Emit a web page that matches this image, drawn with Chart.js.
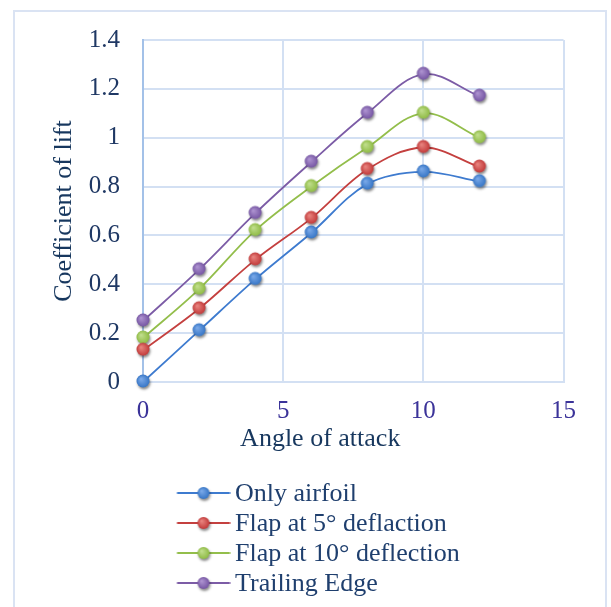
<!DOCTYPE html>
<html>
<head>
<meta charset="utf-8">
<script src="https://cdn.jsdelivr.net/npm/chart.js@4.4.1/dist/chart.umd.min.js"></script>
<style>
  html, body { margin: 0; padding: 0; background: #fff; overflow: hidden; }
  #frame { position: absolute; left: 13px; top: 10px; width: 590px; height: 640px; border: 2px solid #dae3f3; }
  #wrap { position: absolute; left: 0; top: 0; width: 611px; height: 612px; }
</style>
</head>
<body>
<div id="frame"></div>
<div id="wrap"><canvas id="chart"></canvas></div>
<script>
const angles = [0, 2, 4, 6, 8, 10, 12];
const onlyAirfoil = [0, 0.21, 0.42, 0.61, 0.81, 0.86, 0.82];
const flap5 = [0.13, 0.30, 0.50, 0.67, 0.87, 0.96, 0.88];
const flap10 = [0.18, 0.38, 0.62, 0.80, 0.96, 1.10, 1.00];
const trailingEdge = [0.25, 0.46, 0.69, 0.90, 1.10, 1.26, 1.17];
const seriesNames = ['Only airfoil', 'Flap at 5° deflaction', 'Flap at 10° deflection', 'Trailing Edge'];
const seriesValues = [onlyAirfoil, flap5, flap10, trailingEdge];
const xTicks = [0, 5, 10, 15];
const yTicks = [0, 0.2, 0.4, 0.6, 0.8, 1, 1.2, 1.4];
const yTickLabels = ['0', '0.2', '0.4', '0.6', '0.8', '1', '1.2', '1.4'];

const lineColors = ['#3e7bcf', '#c4403f', '#93be4b', '#7c5ca6'];
const dotColors = ['#3776c6', '#c23a3a', '#8fbb45', '#7656a3'];
const dotLights = ['#79a8e8', '#e8837e', '#c0de8c', '#ad92d0'];
const FONT = "'Liberation Serif', 'Times New Roman', serif";
const X_TITLE_SHIFT = -33; // excel puts the x title left of the plot centre

// little 3d-ish dot, optionally with a line through it (legend)
function makeIcon(i, w, lineFrom, lineTo, cx, r) {
    const c = document.createElement('canvas');
    c.width = w;
    c.height = 24;
    const g = c.getContext('2d');
    const cy = 11;
    if (lineTo > lineFrom) {
        g.strokeStyle = lineColors[i];
        g.lineWidth = 2;
        g.beginPath();
        g.moveTo(lineFrom, cy);
        g.lineTo(lineTo, cy);
        g.stroke();
    }
    g.save();
    g.shadowColor = 'rgba(0,0,0,0.45)';
    g.shadowBlur = 2.5;
    g.shadowOffsetX = 1;
    g.shadowOffsetY = 2;
    const grad = g.createRadialGradient(cx - 2, cy - 2, 0.5, cx, cy, r);
    grad.addColorStop(0, dotLights[i]);
    grad.addColorStop(1, dotColors[i]);
    g.fillStyle = grad;
    g.beginPath();
    g.arc(cx, cy, r, 0, Math.PI * 2);
    g.fill();
    g.restore();
    return c;
}

const pointIcons = lineColors.map((_, i) => makeIcon(i, 24, 0, 0, 12, 6.5));
const legendIcons = lineColors.map((_, i) => makeIcon(i, 92, 38.5, 91.5, 65, 6));

const shiftTitle = {
    id: 'shiftTitle',
    afterLayout(chart) {
        const s = chart.scales.x;
        if (!s._origDrawTitle) {
            s._origDrawTitle = s.drawTitle;
            s.drawTitle = function () {
                this.ctx.save();
                this.ctx.translate(X_TITLE_SHIFT, 0);
                this._origDrawTitle();
                this.ctx.restore();
            };
        }
    }
};

const ctx = document.getElementById('chart').getContext('2d');
new Chart(ctx, {
    type: 'line',
    data: {
        datasets: seriesNames.map((name, i) => ({
            label: name,
            data: angles.map((a, k) => ({ x: a, y: seriesValues[i][k] })),
            borderColor: lineColors[i],
            backgroundColor: lineColors[i],
            borderWidth: 1.8,
            tension: 0.35,
            pointStyle: pointIcons[i],
            pointRadius: 7,
            clip: false,
            fill: false
        }))
    },
    options: {
        responsive: true,
        maintainAspectRatio: false,
        animation: false,
        events: [],
        layout: { padding: { left: 30, right: 47.5, top: 40, bottom: 5 } },
        scales: {
            x: {
                type: 'linear',
                min: 0,
                max: 15,
                afterBuildTicks: s => { s.ticks = xTicks.map(v => ({ value: v })); },
                afterFit: s => { s.height = 95; },
                grid: {
                    drawTicks: false,
                    lineWidth: 2,
                    color: c => (c.tick && c.tick.value === 0) ? '#a3c1e8' : '#d3e0f3'
                },
                border: { color: '#d3e0f3', width: 2 },
                ticks: {
                    padding: 14,
                    color: '#3b3399',
                    font: { family: FONT, size: 25 }
                },
                title: {
                    display: true,
                    text: 'Angle of attack',
                    color: '#17375e',
                    font: { family: FONT, size: 26 },
                    padding: { top: 0, bottom: 22 }
                }
            },
            y: {
                min: 0,
                max: 1.4,
                afterBuildTicks: s => { s.ticks = yTicks.map(v => ({ value: v })); },
                afterFit: s => { s.width = 113; },
                grid: { drawTicks: false, lineWidth: 2, color: '#d3e0f3' },
                border: { color: '#a3c1e8', width: 2 },
                ticks: {
                    padding: 23,
                    color: '#1f3864',
                    font: { family: FONT, size: 25 },
                    callback: (v, idx) => yTickLabels[idx]
                },
                title: {
                    display: true,
                    text: 'Coefficient of lift',
                    color: '#17375e',
                    font: { family: FONT, size: 26 },
                    padding: { top: 19, bottom: 0 }
                }
            }
        },
        plugins: {
            tooltip: { enabled: false },
            legend: {
                position: 'bottom',
                align: 'start',
                fullSize: false,
                labels: {
                    usePointStyle: true,
                    pointStyleWidth: 75,
                    padding: 4,
                    color: '#1f3f6e',
                    font: { family: FONT, size: 26 },
                    generateLabels: chart => chart.data.datasets.map((ds, i) => ({
                        text: ds.label,
                        fillStyle: ds.borderColor,
                        strokeStyle: ds.borderColor,
                        lineWidth: 0,
                        pointStyle: legendIcons[i],
                        hidden: false,
                        datasetIndex: i,
                        fontColor: '#1f3f6e'
                    }))
                }
            }
        }
    },
    plugins: [shiftTitle]
});
</script>
</body>
</html>
